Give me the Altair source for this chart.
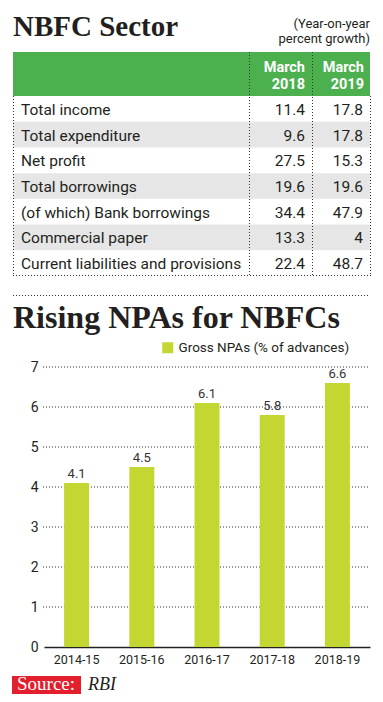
import altair as alt
import pandas as pd

# ---------------- data ----------------
title_top = "NBFC Sector"
subtitle_top = ["(Year-on-year", "percent growth)"]
col_headers = ["March 2018", "March 2019"]
items = ["Total income", "Total expenditure", "Net profit", "Total borrowings",
         "(of which) Bank borrowings", "Commercial paper",
         "Current liabilities and provisions"]
mar2018 = [11.4, 9.6, 27.5, 19.6, 34.4, 13.3, 22.4]
mar2019 = [17.8, 17.8, 15.3, 19.6, 47.9, 4, 48.7]

title_bottom = "Rising NPAs for NBFCs"
series_name = "Gross NPAs (% of advances)"
years = ["2014-15", "2015-16", "2016-17", "2017-18", "2018-19"]
npa = [4.1, 4.5, 6.1, 5.8, 6.6]
y_ticks = [0, 1, 2, 3, 4, 5, 6, 7]
source_label = "Source:"
source_name = "RBI"

# ---------------- style ----------------
W, H = 367, 686
SANS = "Roboto"
SERIF = "Liberation Serif"
TXT = "#231f20"
GREEN = "#4cb04f"
BAR = "#c3d631"
GRAY = "#e6e6e6"
RED = "#e31e2d"

table = pd.DataFrame({
    "item": items,
    "v18": [f"{v:g}" for v in mar2018],
    "v19": [f"{v:g}" for v in mar2019],
    "idx": list(range(len(items))),
})
bars = pd.DataFrame({"year": years, "npa": npa, "series": series_name})
ticks = pd.DataFrame({"t": [t for t in y_ticks if t > 0]})
one = pd.DataFrame({"a": [0]})

row_y = alt.Y("item:N", sort=items, axis=None,
              scale=alt.Scale(type="band", domain=items, range=[88, 268],
                              paddingInner=0, paddingOuter=0))
bar_x_scale = alt.Scale(domain=years, range=[36, 362], paddingInner=0.617, paddingOuter=0.3085)
bar_y_scale = alt.Scale(domain=[0, 7], range=[639, 359], nice=False, zero=True)


def txt(s, x, y, **kw):
    return alt.Chart(pd.DataFrame({"s": [s]})).mark_text(**kw).encode(
        text="s:N", x=alt.value(x), y=alt.value(y))


def dotted(x, x2, y, y2):
    return alt.Chart(one).mark_rule(color="#333", strokeDash=[1, 2], strokeWidth=1).encode(
        x=alt.value(x), x2=alt.value(x2), y=alt.value(y), y2=alt.value(y2))


layers = []
# titles
layers.append(txt(title_top, 5, 28, font=SERIF, fontSize=29, fontWeight="bold",
                  color=TXT, align="left", baseline="alphabetic"))
layers.append(txt(subtitle_top[0], 362, 20, font=SANS, fontSize=13, color=TXT,
                  align="right", baseline="alphabetic"))
layers.append(txt(subtitle_top[1], 362, 35, font=SANS, fontSize=13, color=TXT,
                  align="right", baseline="alphabetic"))

# table header
layers.append(alt.Chart(one).mark_rect(color=GREEN).encode(
    x=alt.value(5), x2=alt.value(362), y=alt.value(44), y2=alt.value(88)))
# shaded rows
layers.append(alt.Chart(table).transform_filter("datum.idx % 2 == 1").mark_rect(color=GRAY).encode(
    y=row_y, x=alt.value(5), x2=alt.value(362)))
# header labels (two lines each)
for hdr, xr in zip(col_headers, [297, 356]):
    top_line, bottom_line = hdr.split(" ")
    layers.append(txt(top_line, xr, 63.5, font=SANS, fontSize=14.5, fontWeight="bold",
                      color="white", align="right", baseline="alphabetic"))
    layers.append(txt(bottom_line, xr, 80.5, font=SANS, fontSize=14.5, fontWeight="bold",
                      color="white", align="right", baseline="alphabetic"))
# rows
layers.append(alt.Chart(table).mark_text(font=SANS, fontSize=15.5, color=TXT, align="left",
                                         baseline="middle", dy=1).encode(
    y=row_y, x=alt.value(13), text="item:N"))
layers.append(alt.Chart(table).mark_text(font=SANS, fontSize=15.5, color=TXT, align="right",
                                         baseline="middle", dy=1).encode(
    y=row_y, x=alt.value(297), text="v18:N"))
layers.append(alt.Chart(table).mark_text(font=SANS, fontSize=15.5, color=TXT, align="right",
                                         baseline="middle", dy=1).encode(
    y=row_y, x=alt.value(355), text="v19:N"))
# dotted table lines
layers.append(dotted(5.5, 5.5, 88, 268))
layers.append(dotted(241.5, 241.5, 44, 268))
layers.append(dotted(304.5, 304.5, 44, 268))
layers.append(dotted(362.5, 362.5, 88, 268))
layers.append(dotted(5, 363, 267.5, 267.5))
layers.append(dotted(5, 362, 287.5, 287.5))

# second title
layers.append(txt(title_bottom, 5, 320, font=SERIF, fontSize=32, fontWeight="bold",
                  color=TXT, align="left", baseline="alphabetic"))

# gridlines
layers.append(alt.Chart(ticks).mark_rule(color="#333", strokeDash=[1, 2], strokeWidth=1).encode(
    y=alt.Y("t:Q", scale=bar_y_scale, axis=None), x=alt.value(35), x2=alt.value(362)))

# bars
layers.append(alt.Chart(bars).mark_bar().encode(
    x=alt.X("year:N", scale=bar_x_scale, title=None,
            axis=alt.Axis(orient="bottom", offset=-(H - 639), domain=True, domainColor="#222",
                          domainWidth=1.5, ticks=False, labelPadding=6, labelAngle=0,
                          labelFont=SANS, labelFontSize=12.5, labelColor=TXT, grid=False)),
    y=alt.Y("npa:Q", scale=bar_y_scale, title=None,
            axis=alt.Axis(orient="left", offset=-35, values=y_ticks, domain=False, ticks=False,
                          grid=False, labelPadding=5, labelFont=SANS, labelFontSize=14,
                          labelColor=TXT)),
    color=alt.Color("series:N", scale=alt.Scale(range=[BAR]),
                    legend=alt.Legend(orient="none", legendX=153, legendY=333, title=None,
                                      symbolType="square", symbolSize=121, symbolStrokeWidth=0,
                                      labelFont=SANS, labelFontSize=13.5, labelColor=TXT,
                                      labelLimit=300, padding=0)),
))
# bar labels
layers.append(alt.Chart(bars).mark_text(font=SANS, fontSize=13, color="#333",
                                        baseline="bottom", dy=-2).encode(
    x=alt.X("year:N", scale=bar_x_scale, axis=None),
    y=alt.Y("npa:Q", scale=bar_y_scale, axis=None),
    text=alt.Text("npa:Q", format=".1f")))

# source
layers.append(alt.Chart(one).mark_rect(color=RED).encode(
    x=alt.value(4), x2=alt.value(73), y=alt.value(668), y2=alt.value(686)))
layers.append(txt(source_label, 9, 682, font=SERIF, fontSize=19, color="white",
                  align="left", baseline="alphabetic"))
layers.append(txt(source_name, 80, 682, font=SERIF, fontSize=18, fontStyle="italic",
                  color=TXT, align="left", baseline="alphabetic"))

chart = alt.layer(*layers).resolve_scale(
    x="independent", y="independent", color="independent"
).properties(
    width=W, height=H, padding=0, autosize=alt.AutoSizeParams(type="none"),
    background="white"
).configure_view(stroke=None)

chart.save("out.html", embed_options={"renderer": "svg", "actions": False})
